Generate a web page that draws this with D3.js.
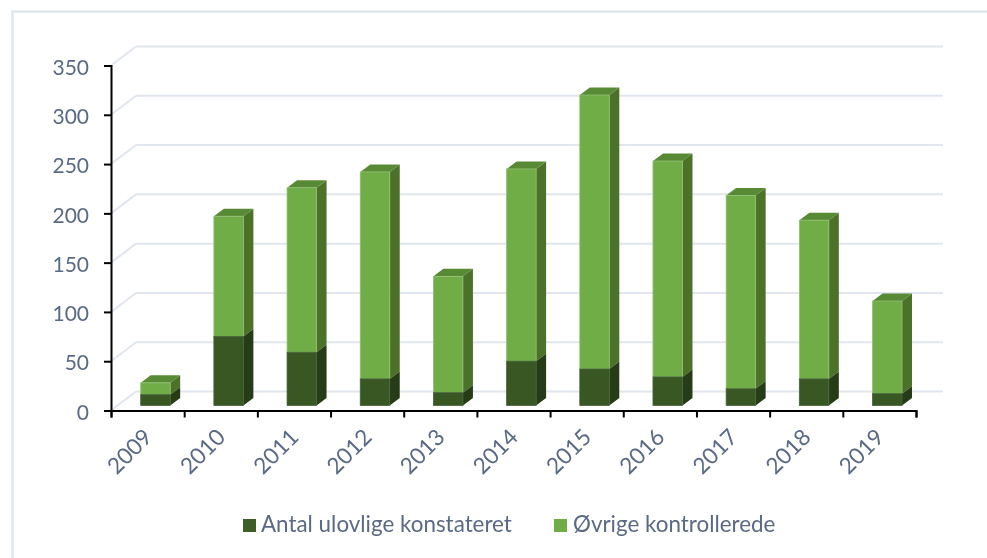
<!DOCTYPE html>
<html>
<head>
<meta charset="utf-8">
<script src="https://cdn.jsdelivr.net/npm/d3@7"></script>
<style>
  html, body { margin: 0; padding: 0; background: #fff; }
  svg { display: block; filter: blur(0.4px); }
  text { font-family: Lato, "Open Sans", sans-serif; fill: #5a6a85; }
</style>
</head>
<body>
<svg class="chart" width="987" height="558"></svg>
<script>
// values
var years = ["2009", "2010", "2011", "2012", "2013", "2014", "2015", "2016", "2017", "2018", "2019"];
var ulovlige = [11, 70, 54, 27, 13, 45, 37, 29, 17, 27, 12];
var oevrige = [12, 122, 167, 210, 118, 195, 278, 219, 196, 161, 94];
var seriesNames = ["Antal ulovlige konstateret", "Øvrige kontrollerede"];
var yTicks = [0, 50, 100, 150, 200, 250, 300, 350];

var svg = d3.select("svg.chart");

// plot area of the front of the floor
var plotLeft = 111, plotRight = 916, plotBottom = 410.5, plotTop = 65.5;
// depth of the back wall and of one bar
var wallDx = 25, wallDy = -19, wallRight = 943;
var barDx = 10, barDy = -7.5, barLift = 5, barWidth = 29.5;

var y = d3.scaleLinear().domain([0, 350]).range([plotBottom, plotTop]);
var x = d3.scaleBand().domain(years).range([plotLeft, plotRight]);
var tickX = d3.scaleLinear().domain([0, years.length]).range([plotLeft, plotRight]);

var table = years.map(function(d, i) {
  return { year: d, ulovlige: ulovlige[i], oevrige: oevrige[i] };
});
var stacked = d3.stack().keys(["ulovlige", "oevrige"])(table);

var colors = [
  { front: "#385723", side: "#263c17", top: "#2f4a1d", edge: "#44643a" },
  { front: "#70ad47", side: "#4c7229", top: "#588a35", edge: "#93bf76" }
];

// chart frame
svg.append("path")
  .attr("d", "M12.5,558V11.5H987")
  .attr("fill", "none")
  .attr("stroke", "#e1e5ee")
  .attr("stroke-width", 2.5);

// gridlines on the back wall and the side wall
var grid = svg.append("g").attr("class", "grid");
grid.selectAll("line.back")
  .data(yTicks)
  .enter().append("line")
  .attr("class", "back")
  .attr("x1", plotLeft + wallDx)
  .attr("x2", wallRight)
  .attr("y1", function(d) { return y(d) + wallDy; })
  .attr("y2", function(d) { return y(d) + wallDy; });
grid.selectAll("line.side")
  .data(yTicks)
  .enter().append("line")
  .attr("class", "side")
  .attr("x1", plotLeft)
  .attr("x2", plotLeft + wallDx)
  .attr("y1", function(d) { return y(d); })
  .attr("y2", function(d) { return y(d) + wallDy; });
grid.selectAll("line")
  .attr("stroke", "#e1e5ee")
  .attr("stroke-width", 2);

// bars, one group per series
var layers = svg.selectAll("g.layer")
  .data(stacked)
  .enter().append("g")
  .attr("class", "layer");

function barX(d) { return x(d.data.year) + 29.7; }

layers.each(function(layer, k) {
  var c = colors[k];
  var g = d3.select(this);

  // side face
  g.selectAll("polygon.side")
    .data(layer)
    .enter().append("polygon")
    .attr("class", "side")
    .attr("fill", c.side)
    .attr("points", function(d) {
      var x1 = barX(d) + barWidth, y0 = y(d[0]) - barLift, y1 = y(d[1]) - barLift;
      return [[x1, y0], [x1 + barDx, y0 + barDy], [x1 + barDx, y1 + barDy], [x1, y1]].join(" ");
    });

  // top face
  g.selectAll("polygon.top")
    .data(layer)
    .enter().append("polygon")
    .attr("class", "top")
    .attr("fill", c.top)
    .attr("points", function(d) {
      var x0 = barX(d), x1 = x0 + barWidth, y1 = y(d[1]) - barLift;
      return [[x0, y1], [x1, y1], [x1 + barDx, y1 + barDy], [x0 + barDx, y1 + barDy]].join(" ");
    });

  // front face
  g.selectAll("rect.front")
    .data(layer)
    .enter().append("rect")
    .attr("class", "front")
    .attr("fill", c.front)
    .attr("stroke", c.edge)
    .attr("stroke-width", 0.8)
    .attr("x", barX)
    .attr("y", function(d) { return y(d[1]) - barLift; })
    .attr("width", barWidth)
    .attr("height", function(d) { return y(d[0]) - y(d[1]); });
});

// the dark segment's top is hidden under the light one, and it goes on top at the seam
svg.selectAll("g.layer").filter(function(d, i) { return i === 0; })
  .raise()
  .selectAll("polygon.top").remove();

// axes
var yAxis = svg.append("g")
  .attr("transform", "translate(" + plotLeft + ",0)")
  .call(d3.axisLeft(y).tickValues(yTicks).tickSize(7).tickPadding(15));
var xAxis = svg.append("g")
  .attr("transform", "translate(0," + plotBottom + ")")
  .call(d3.axisBottom(tickX).ticks(years.length).tickSize(7).tickFormat(""));

[yAxis, xAxis].forEach(function(a) {
  a.selectAll(".domain, .tick line")
    .attr("stroke", "#000")
    .attr("stroke-width", 2);
});
yAxis.selectAll("text")
  .attr("font-family", null)
  .attr("fill", null)
  .attr("y", 2)
  .style("font-size", "21px");

// year labels are centred in the band, slanted
svg.selectAll("text.year")
  .data(years)
  .enter().append("text")
  .attr("class", "year")
  .attr("text-anchor", "end")
  .attr("transform", function(d) {
    return "translate(" + (x(d) + x.bandwidth() / 2 + 6) + "," + (plotBottom + 28) + ") rotate(-45)";
  })
  .style("font-size", "22.5px")
  .text(function(d) { return d; });

// legend
var legendX = [243, 554], legendText = [261, 573];
var legend = svg.selectAll("g.legend")
  .data(seriesNames)
  .enter().append("g")
  .attr("class", "legend");
legend.append("rect")
  .attr("x", function(d, i) { return legendX[i]; })
  .attr("y", 519)
  .attr("width", 13)
  .attr("height", 13)
  .attr("fill", function(d, i) { return i === 0 ? "#3d5f26" : colors[1].front; });
legend.append("text")
  .attr("x", function(d, i) { return legendText[i]; })
  .attr("y", 532)
  .style("font-size", "22.4px")
  .text(function(d) { return d; });
</script>
</body>
</html>
